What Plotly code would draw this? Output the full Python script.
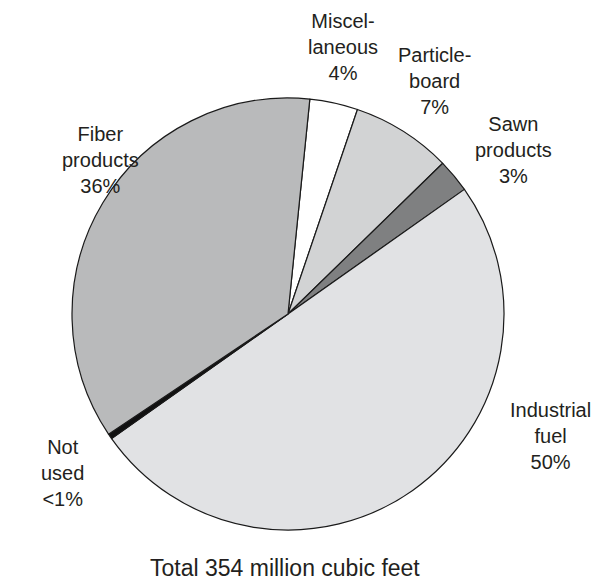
import plotly.graph_objects as go

# Data
categories = ["Miscellaneous", "Particleboard", "Sawn products", "Industrial fuel", "Not used", "Fiber products"]
values = [3.6, 7.5, 2.5, 50.0, 0.4, 36.0]
label_texts = ["Miscel-<br>laneous<br>4%", "Particle-<br>board<br>7%", "Sawn<br>products<br>3%",
               "Industrial<br>fuel<br>50%", "Not<br>used<br>&lt;1%", "Fiber<br>products<br>36%"]
title_text = "Total 354 million cubic feet"

# Styles
colors = ["#ffffff", "#d2d3d4", "#7f8081", "#e1e2e4", "#111111", "#b9babb"]
W, H = 605, 581
label_px = [(343, 47), (434, 81), (513, 150), (550, 436), (62, 473), (100, 160)]

cx, cy, r = 288, 314, 216

fig = go.Figure(go.Pie(
    labels=categories,
    values=values,
    sort=False,
    direction="clockwise",
    rotation=5.8,
    marker=dict(colors=colors, line=dict(color="#1a1a1a", width=1.2)),
    textinfo="none",
    hoverinfo="skip",
    showlegend=False,
    domain=dict(x=[(cx - r) / W, (cx + r) / W], y=[(H - cy - r) / H, (H - cy + r) / H]),
))

font = dict(family="Liberation Sans, Arial, sans-serif", size=20, color="#231f20")
annotations = []
for txt, (px, py) in zip(label_texts, label_px):
    annotations.append(dict(text=txt, x=px / W, y=1 - py / H, xref="paper", yref="paper",
                            xanchor="center", yanchor="middle", showarrow=False, font=font,
                            align="center"))
annotations.append(dict(text=title_text, x=285 / W, y=1 - 568 / H, xref="paper", yref="paper",
                        xanchor="center", yanchor="middle", showarrow=False,
                        font=dict(family="Liberation Sans, Arial, sans-serif", size=23, color="#231f20")))

fig.update_layout(
    width=W, height=H,
    margin=dict(l=0, r=0, t=0, b=0),
    paper_bgcolor="white", plot_bgcolor="white",
    annotations=annotations,
)

fig.write_html("out.html", config={"displayModeBar": False},
               post_script="document.body.style.margin='0';document.body.style.overflow='hidden';")
